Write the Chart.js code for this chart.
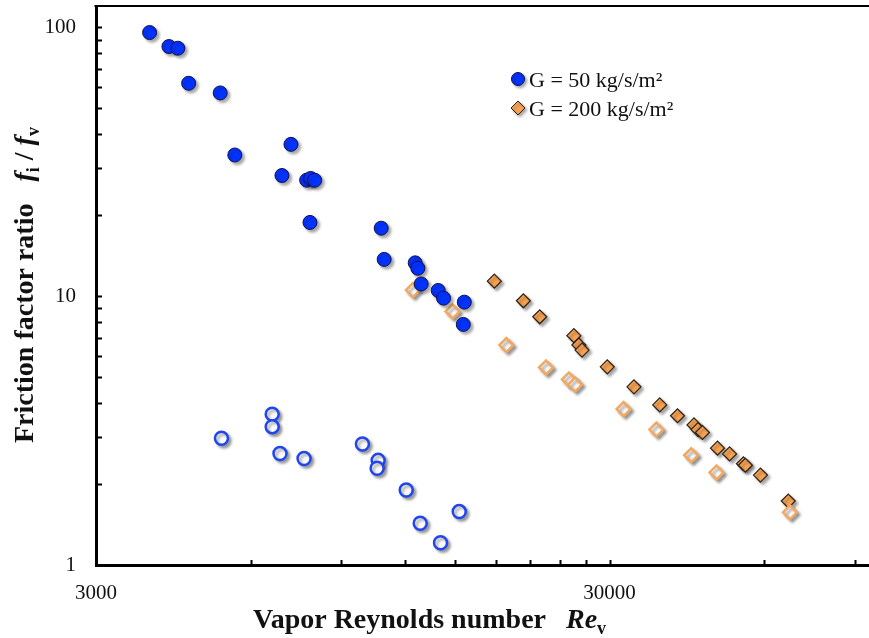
<!DOCTYPE html>
<html>
<head>
<meta charset="utf-8">
<script src="https://cdn.jsdelivr.net/npm/chart.js@4.4.1/dist/chart.umd.min.js"></script>
<style>
  html, body { margin: 0; padding: 0; background: #fff; }
  #wrap { width: 869px; height: 638px; position: relative; }
</style>
</head>
<body>
<div id="wrap"><canvas id="frictionChart"></canvas></div>
<script>
// Vapor Reynolds number (x) and friction factor ratio fi/fv (y)
const g50Re = [3815, 4160, 4330, 4545, 5235, 5590, 7190, 6905, 7715, 7855, 7995, 7830, 10775, 10920, 12550, 12700, 12890, 13915, 14250, 15640, 15570];
const g50Ratio = [95.6, 84.8, 83.6, 61.9, 57.0, 33.5, 36.7, 28.1, 27.0, 27.4, 27.0, 18.8, 17.9, 13.7, 13.3, 12.7, 11.1, 10.5, 9.83, 9.50, 7.85];

const g50OpenRe = [5265, 6610, 6610, 6845, 7625, 9905, 10630, 10580, 12055, 12835, 15290, 14060];
const g50OpenRatio = [2.96, 3.64, 3.27, 2.60, 2.49, 2.82, 2.45, 2.29, 1.90, 1.43, 1.58, 1.21];

const g200Re = [17895, 20385, 21935, 25560, 26140, 26515, 29690, 33465, 37565, 40685, 43805, 44600, 45495, 48675, 51385, 54665, 55155, 59005, 66850];
const g200Ratio = [11.37, 9.61, 8.38, 7.13, 6.58, 6.30, 5.46, 4.60, 3.94, 3.59, 3.32, 3.19, 3.11, 2.72, 2.59, 2.38, 2.35, 2.16, 1.73];

const g200OpenRe = [12420, 14840, 18885, 22570, 25010, 25700, 31945, 37005, 43265, 48460, 67355];
const g200OpenRatio = [10.53, 8.77, 6.58, 5.43, 4.90, 4.69, 3.80, 3.19, 2.56, 2.21, 1.57];

// axis ticks
const xTickValues = [3000, 30000];
const yTickValues = [1, 10, 100];
const xMinorTicks = [6000, 9000, 12000, 15000, 18000, 21000, 24000, 27000, 30000, 60000, 90000];
const yMinorTicks = [2, 3, 4, 5, 6, 7, 8, 9, 10, 20, 30, 40, 50, 60, 70, 80, 90, 100];

const legendLabels = ['G = 50 kg/s/m²', 'G = 200 kg/s/m²'];

const SERIF = '"Liberation Serif", "Times New Roman", serif';
const BLUE = '#0433ff';
const ORANGE = '#f7a354';

function toPoints(xs, ys) {
    return xs.map((x, i) => ({ x: x, y: ys[i] }));
}

// draw a run of text pieces with different fonts one after the other
function drawRich(ctx, parts, x, y) {
    let cx = x;
    parts.forEach(p => {
        ctx.font = p.font;
        if (p.gap) cx += p.gap;
        ctx.fillText(p.text, cx, y + (p.dy || 0));
        cx += ctx.measureText(p.text).width;
    });
}

// no extra room for edge labels, the plot area is fixed
function fixSize(scale, prop, size) {
    scale[prop] = size;
    scale.paddingTop = 0;
    scale.paddingBottom = 0;
    scale.paddingLeft = 0;
    scale.paddingRight = 0;
}

// soft drop shadow under the markers
const shadowPlugin = {
    id: 'markerShadow',
    beforeDatasetsDraw(chart) {
        const ctx = chart.ctx;
        ctx.save();
        ctx.shadowColor = 'rgba(0,0,0,0.35)';
        ctx.shadowBlur = 3;
        ctx.shadowOffsetX = 2.5;
        ctx.shadowOffsetY = 2.5;
    },
    afterDatasetsDraw(chart) {
        chart.ctx.restore();
    }
};

// inward ticks, top frame line, axis titles and legend
const framePlugin = {
    id: 'frame',
    afterDraw(chart) {
        const ctx = chart.ctx;
        const area = chart.chartArea;
        const xs = chart.scales.x;
        const ys = chart.scales.y;

        ctx.save();
        ctx.strokeStyle = '#000';

        // top line
        ctx.lineWidth = 2;
        ctx.beginPath();
        ctx.moveTo(area.left - 1.5, area.top);
        ctx.lineTo(chart.width, area.top);
        ctx.stroke();

        // inward tick marks
        ctx.lineWidth = 2;
        ctx.beginPath();
        yMinorTicks.forEach(v => {
            const py = Math.round(ys.getPixelForValue(v)) + 0.5;
            ctx.moveTo(area.left, py);
            ctx.lineTo(area.left + 6, py);
        });
        xMinorTicks.forEach(v => {
            const px = Math.round(xs.getPixelForValue(v)) + 0.5;
            ctx.moveTo(px, area.bottom);
            ctx.lineTo(px, area.bottom - 5);
        });
        ctx.stroke();

        // axis titles
        ctx.fillStyle = '#111';
        ctx.textBaseline = 'alphabetic';
        ctx.textAlign = 'left';
        drawRich(ctx, [
            { text: 'Vapor Reynolds number', font: 'bold 28px ' + SERIF },
            { text: 'Re', font: 'italic bold 28px ' + SERIF, gap: 20 },
            { text: 'v', font: 'bold 18px ' + SERIF, dy: 6 }
        ], 253, 628);

        ctx.save();
        ctx.translate(33, 443);
        ctx.rotate(-Math.PI / 2);
        drawRich(ctx, [
            { text: 'Friction factor ratio', font: 'bold 28px ' + SERIF },
            { text: 'f', font: 'italic bold 28px ' + SERIF, gap: 22 },
            { text: 'i', font: 'bold 18px ' + SERIF, dy: 6 },
            { text: ' / ', font: 'bold 28px ' + SERIF },
            { text: 'f', font: 'italic bold 28px ' + SERIF },
            { text: 'v', font: 'bold 18px ' + SERIF, dy: 6 }
        ], 0, 0);
        ctx.restore();

        // legend
        ctx.save();
        ctx.shadowColor = 'rgba(0,0,0,0.35)';
        ctx.shadowBlur = 3;
        ctx.shadowOffsetX = 2;
        ctx.shadowOffsetY = 2;
        ctx.lineWidth = 1;
        ctx.strokeStyle = '#10104a';
        ctx.fillStyle = BLUE;
        ctx.beginPath();
        ctx.arc(518, 79, 6.5, 0, Math.PI * 2);
        ctx.fill();
        ctx.stroke();
        ctx.strokeStyle = '#2b2016';
        ctx.fillStyle = ORANGE;
        ctx.beginPath();
        ctx.moveTo(511, 108);
        ctx.lineTo(518, 101);
        ctx.lineTo(525, 108);
        ctx.lineTo(518, 115);
        ctx.closePath();
        ctx.fill();
        ctx.stroke();
        ctx.restore();

        ctx.fillStyle = '#111';
        ctx.font = '22px ' + SERIF;
        ctx.textBaseline = 'middle';
        ctx.fillText(legendLabels[0], 529, 81);
        ctx.fillText(legendLabels[1], 529, 110);

        ctx.restore();
    }
};

const ctx = document.getElementById('frictionChart').getContext('2d');
new Chart(ctx, {
    type: 'scatter',
    data: {
        datasets: [
            {
                label: legendLabels[0],
                data: toPoints(g50Re, g50Ratio),
                pointStyle: 'circle',
                pointRadius: 7,
                backgroundColor: BLUE,
                borderColor: '#10104a',
                borderWidth: 1,
                order: 1
            },
            {
                label: 'G = 50 open',
                data: toPoints(g50OpenRe, g50OpenRatio),
                pointStyle: 'circle',
                pointRadius: 6.5,
                backgroundColor: '#ffffff',
                borderColor: '#1f45f0',
                borderWidth: 2.5,
                order: 2
            },
            {
                label: legendLabels[1],
                data: toPoints(g200Re, g200Ratio),
                pointStyle: 'rectRot',
                pointRadius: 7,
                backgroundColor: ORANGE,
                borderColor: '#2b2016',
                borderWidth: 1.2,
                order: 4
            },
            {
                label: 'G = 200 open',
                data: toPoints(g200OpenRe, g200OpenRatio),
                pointStyle: 'rectRot',
                pointRadius: 7,
                backgroundColor: '#ffffff',
                borderColor: '#f3a862',
                borderWidth: 2.5,
                order: 3
            }
        ]
    },
    options: {
        responsive: true,
        maintainAspectRatio: false,
        animation: false,
        events: [],
        layout: { autoPadding: false, padding: { top: 6, right: 0, left: 0, bottom: 0 } },
        plugins: {
            legend: { display: false },
            tooltip: { enabled: false }
        },
        scales: {
            x: {
                type: 'logarithmic',
                position: 'bottom',
                min: 3000,
                max: 96000,
                grid: { display: true, drawOnChartArea: false, drawTicks: false },
                border: { display: true, color: '#000', width: 3 },
                ticks: {
                    autoSkip: false,
                    maxRotation: 0,
                    padding: 16,
                    color: '#111',
                    font: { family: SERIF, size: 21 },
                    callback: (value) => String(value)
                },
                afterBuildTicks: (scale) => {
                    scale.ticks = xTickValues.map(v => ({ value: v }));
                },
                afterFit: (scale) => fixSize(scale, 'height', 73)
            },
            y: {
                type: 'logarithmic',
                position: 'left',
                min: 1,
                max: 120,
                grid: { display: true, drawOnChartArea: false, drawTicks: false },
                border: { display: true, color: '#000', width: 3 },
                ticks: {
                    autoSkip: false,
                    padding: 20,
                    color: '#111',
                    font: { family: SERIF, size: 21 },
                    callback: (value) => String(value)
                },
                afterBuildTicks: (scale) => {
                    scale.ticks = yTickValues.map(v => ({ value: v }));
                },
                afterFit: (scale) => fixSize(scale, 'width', 96)
            }
        }
    },
    plugins: [shadowPlugin, framePlugin]
});
</script>
</body>
</html>
